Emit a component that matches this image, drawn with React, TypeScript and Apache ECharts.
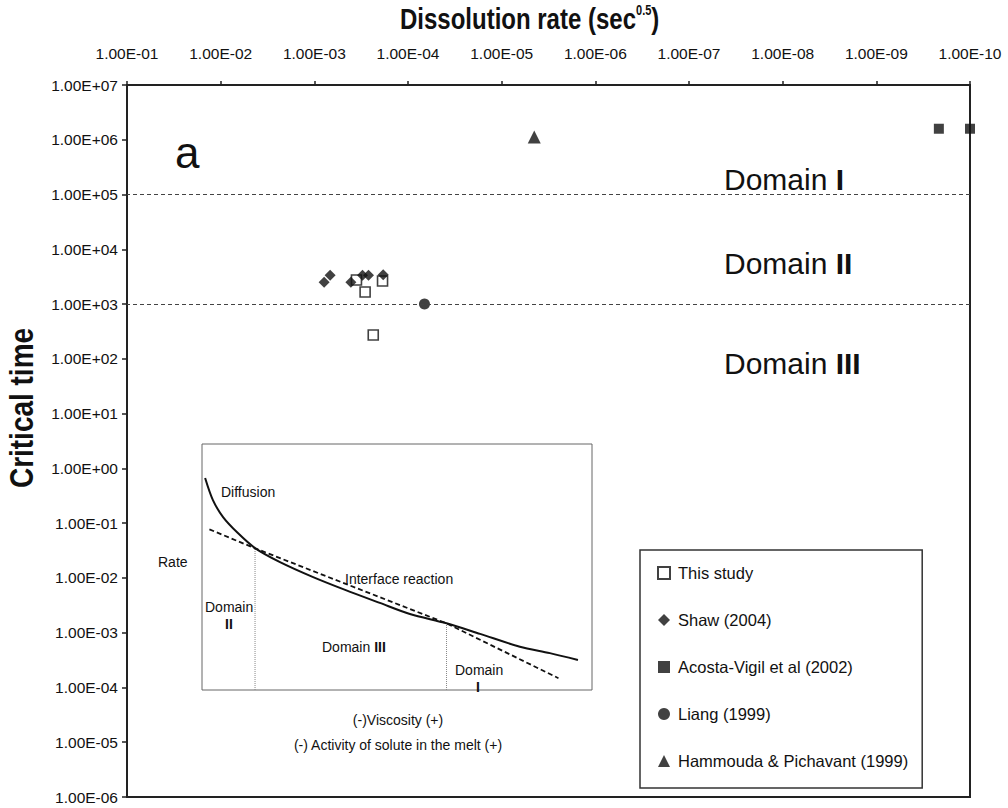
import React, { useEffect, useRef } from 'react';
import * as echarts from 'echarts';

const FONT = "'Liberation Sans', Arial, Helvetica, sans-serif";

// ---- main chart data (dissolution rate, critical time) ----
const thisStudyRate = [3.55e-4, 1.87e-4, 2.87e-4, 2.35e-4];
const thisStudyTime = [2750, 2640, 1660, 272];

const shawRate = [7.86e-4, 6.78e-4, 4.07e-4, 3.06e-4, 2.64e-4, 1.84e-4];
const shawTime = [2500, 3350, 2500, 3350, 3350, 3440];

const acostaRate = [2.15e-10, 1.0e-10];
const acostaTime = [1.59e6, 1.59e6];

const liangRate = [6.67e-5];
const liangTime = [1000];

const hammoudaRate = [4.49e-6];
const hammoudaTime = [1.12e6];

const domainBoundaries = [1e5, 1e3];

const xMin = 1e-10;
const xMax = 1e-1;
const yMin = 1e-6;
const yMax = 1e7;

// ---- inset schematic (relative 0..100 units) ----
const diffusionX = [0.8, 2.8, 5.4, 9.2, 13.6, 20, 28.5, 36.7, 45.6, 53.3, 62.7, 71.3, 81.5, 89.2, 96.4];
const diffusionY = [86.2, 77.2, 70.3, 63.8, 57.7, 52, 45.9, 40.7, 35.4, 30.9, 27.1, 22.8, 17.6, 15, 12.2];
const interfaceX = [1.9, 13.6, 62.7, 91.4];
const interfaceY = [65.3, 57.6, 27.1, 4.8];
const splitX = [13.6, 62.7];
const splitTop = [57.6, 27.1];

const zip = (a: number[], b: number[]) => a.map((v, i) => [v, b[i]]);

const sci = (v: number) => {
  const e = Math.round(Math.log10(v));
  return '1.00E' + (e < 0 ? '-' : '+') + String(Math.abs(e)).padStart(2, '0');
};

const names = [
  'This study',
  'Shaw (2004)',
  'Acosta-Vigil et al (2002)',
  'Liang (1999)',
  'Hammouda & Pichavant (1999)',
];

export default function App() {
  const ref = useRef<HTMLDivElement>(null);
  useEffect(() => {
    const chart = echarts.init(ref.current as HTMLDivElement, null, { renderer: 'svg' });
    const axisLabelStyle = { fontFamily: FONT, fontSize: 15.5, color: '#111' };
    const txt = (text: string, x: number, y: number, size: number, align: string = 'left', extra: any = {}) => ({
      type: 'text',
      x,
      y,
      z: 100,
      style: {
        text,
        fontFamily: FONT,
        fontSize: size,
        fill: '#111',
        textAlign: align,
        textVerticalAlign: 'middle',
        ...extra,
      },
    });
    const richDomain = (label: string, num: string, x: number, y: number, size: number) => ({
      type: 'text',
      x,
      y,
      z: 100,
      style: {
        text: `{n|${label}}{b|${num}}`,
        textVerticalAlign: 'middle',
        rich: {
          n: { fontFamily: FONT, fontSize: size, fill: '#111' },
          b: { fontFamily: FONT, fontSize: size, fontWeight: 'bold', fill: '#111' },
        },
      },
    });

    const option: any = {
      animation: false,
      backgroundColor: '#fff',
      grid: [
        { left: 127, top: 85, right: 38, bottom: 11, show: true, borderColor: '#222', borderWidth: 2 },
        { left: 202, top: 444, width: 390, height: 246, show: true, borderColor: '#666', borderWidth: 1, backgroundColor: '#fff', z: 1 },
      ],
      xAxis: [
        {
          type: 'log',
          logBase: 10,
          gridIndex: 0,
          min: xMin,
          max: xMax,
          interval: 1,
          inverse: true,
          position: 'top',
          axisLine: { show: true, lineStyle: { color: '#222', width: 2 } },
          axisTick: { show: true, length: 4, lineStyle: { color: '#222', width: 1.5 } },
          axisLabel: { ...axisLabelStyle, margin: 24, formatter: sci },
          splitLine: { show: false },
          minorTick: { show: false },
        },
        { type: 'value', gridIndex: 1, min: 0, max: 100, show: false },
      ],
      yAxis: [
        {
          type: 'log',
          logBase: 10,
          gridIndex: 0,
          min: yMin,
          max: yMax,
          interval: 1,
          axisLine: { show: true, lineStyle: { color: '#222', width: 2 } },
          axisTick: { show: true, length: 5, lineStyle: { color: '#222', width: 1.5 } },
          axisLabel: { ...axisLabelStyle, margin: 9, formatter: sci },
          splitLine: { show: false },
          minorTick: { show: false },
        },
        { type: 'value', gridIndex: 1, min: 0, max: 100, show: false },
      ],
      legend: {
        data: names,
        orient: 'vertical',
        left: 640,
        top: 550,
        height: 250,
        padding: [13, 14, 17, 17],
        itemGap: 27,
        itemWidth: 12,
        itemHeight: 12,
        borderColor: '#333',
        borderWidth: 1.5,
        backgroundColor: '#fff',
        selectedMode: false,
        textStyle: { fontFamily: FONT, fontSize: 16.5, lineHeight: 20, color: '#111', padding: [0, 0, 0, 3] },
      },
      series: [
        {
          type: 'scatter',
          name: names[0],
          symbol: 'rect',
          symbolSize: 10,
          clip: false,
          itemStyle: { color: '#fff', borderColor: '#111', borderWidth: 1.6 },
          data: zip(thisStudyRate, thisStudyTime),
          markLine: {
            silent: true,
            symbol: 'none',
            label: { show: false },
            lineStyle: { color: '#444', width: 1, type: [4, 3] },
            data: domainBoundaries.map((v) => ({ yAxis: v })),
          },
        },
        {
          type: 'scatter',
          name: names[1],
          symbol: 'diamond',
          symbolSize: 11,
          clip: false,
          itemStyle: { color: '#111' },
          data: zip(shawRate, shawTime),
        },
        {
          type: 'scatter',
          name: names[2],
          symbol: 'rect',
          symbolSize: 10,
          clip: false,
          itemStyle: { color: '#111' },
          data: zip(acostaRate, acostaTime),
        },
        {
          type: 'scatter',
          name: names[3],
          symbol: 'circle',
          symbolSize: 11,
          clip: false,
          itemStyle: { color: '#111' },
          data: zip(liangRate, liangTime),
        },
        {
          type: 'scatter',
          name: names[4],
          symbol: 'triangle',
          symbolSize: 13,
          clip: false,
          itemStyle: { color: '#111' },
          data: zip(hammoudaRate, hammoudaTime),
        },
        {
          type: 'line',
          name: 'Diffusion',
          xAxisIndex: 1,
          yAxisIndex: 1,
          showSymbol: false,
          smooth: 0.3,
          z: 5,
          lineStyle: { color: '#111', width: 2 },
          data: zip(diffusionX, diffusionY),
        },
        {
          type: 'line',
          name: 'Interface reaction',
          xAxisIndex: 1,
          yAxisIndex: 1,
          showSymbol: false,
          z: 5,
          lineStyle: { color: '#111', width: 1.8, type: [5, 3] },
          data: zip(interfaceX, interfaceY),
        },
        ...splitX.map((x, i) => ({
          type: 'line',
          name: 'split' + i,
          xAxisIndex: 1,
          yAxisIndex: 1,
          showSymbol: false,
          z: 4,
          lineStyle: { color: '#888', width: 1, type: [1, 1] },
          data: [
            [x, 0],
            [x, splitTop[i]],
          ],
        })),
      ],
      graphic: [
        {
          type: 'text',
          x: 400,
          y: 19,
          z: 100,
          scaleY: 1.25,
          style: {
            text: '{t|Dissolution rate (sec}{s|0.5}{t|)}',
            textVerticalAlign: 'middle',
            rich: {
              t: { fontFamily: FONT, fontSize: 24, fontWeight: 'bold', fill: '#111' },
              s: { fontFamily: FONT, fontSize: 11, fontWeight: 'bold', fill: '#111', verticalAlign: 'top' },
            },
          },
        },
        {
          type: 'text',
          x: 22,
          y: 408,
          z: 100,
          rotation: Math.PI / 2,
          scaleY: 1.2,
          style: {
            text: 'Critical time',
            fontFamily: FONT,
            fontSize: 28,
            fontWeight: 'bold',
            fill: '#111',
            textAlign: 'center',
            textVerticalAlign: 'middle',
          },
        },
        txt('a', 175, 152, 44),
        richDomain('Domain ', 'I', 724, 179, 30),
        richDomain('Domain ', 'II', 724, 263, 30),
        richDomain('Domain ', 'III', 724, 363, 30),
        txt('Rate', 158, 562, 14),
        txt('Diffusion', 221, 492, 14),
        txt('Interface reaction', 345, 579, 14),
        txt('Domain', 205, 607, 14),
        txt('II', 229, 624, 14, 'center', { fontWeight: 'bold' }),
        richDomain('Domain ', 'III', 322, 647, 14),
        txt('Domain', 455, 670, 14),
        txt('I', 478, 687, 14, 'center', { fontWeight: 'bold' }),
        txt('(-)Viscosity (+)', 398, 720, 14, 'center'),
        txt('(-) Activity of solute in the melt (+)', 398, 745, 14, 'center'),
      ],
    };
    chart.setOption(option);
    return () => chart.dispose();
  }, []);
  return <div ref={ref} style={{ position: 'absolute', left: 0, top: 0, width: 1008, height: 808 }} />;
}
